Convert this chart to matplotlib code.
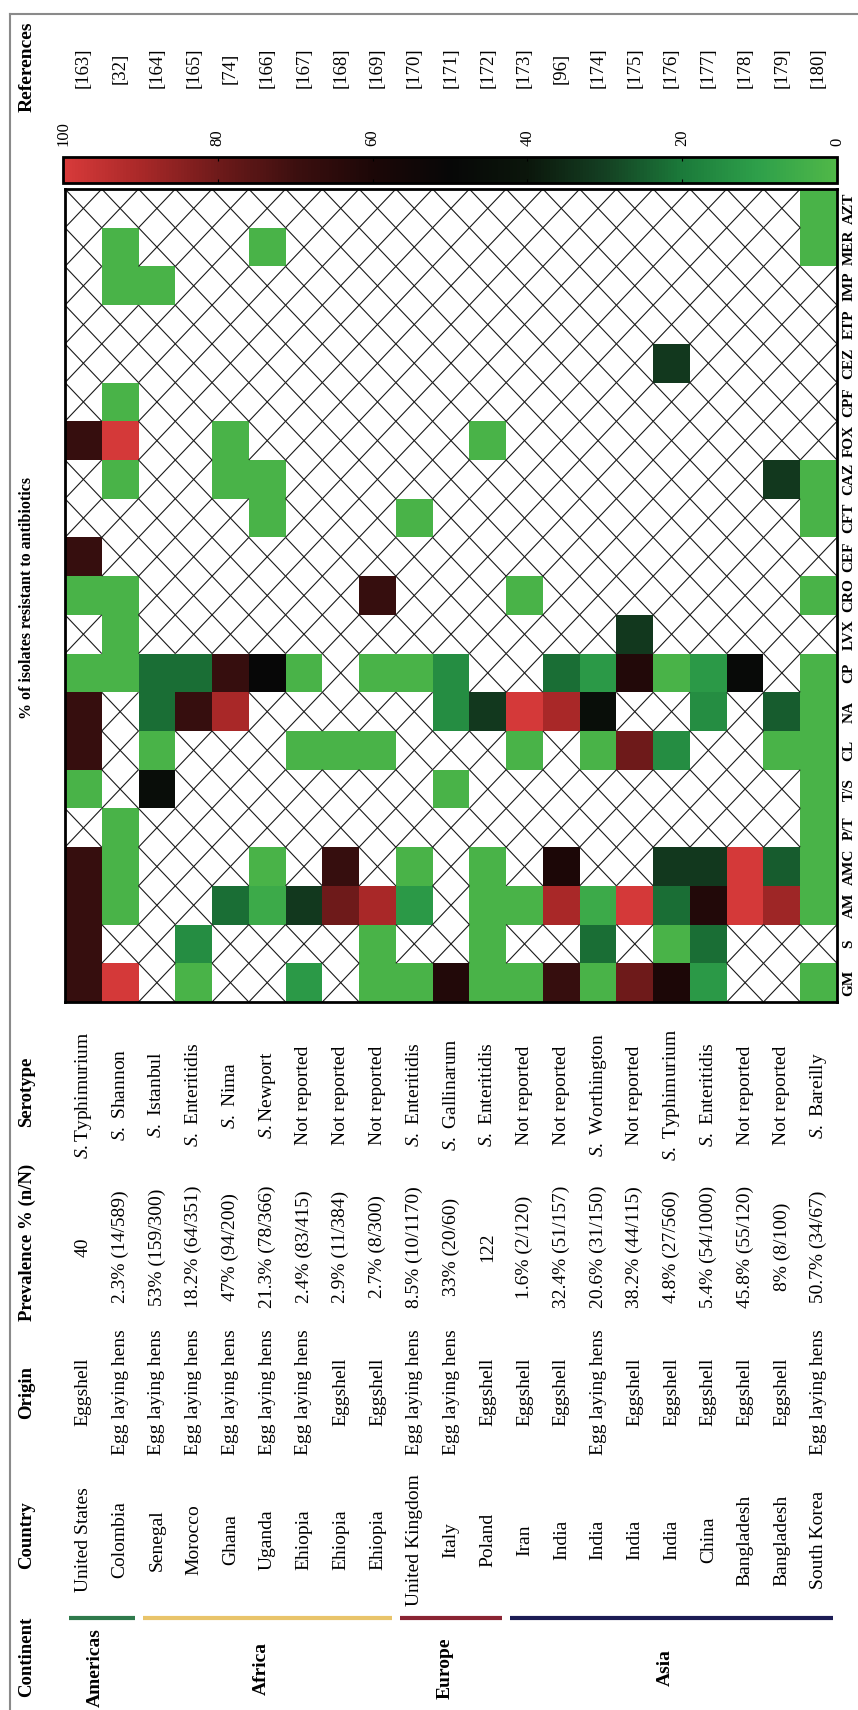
import numpy as np
import matplotlib
matplotlib.use('Agg')
import matplotlib.pyplot as plt
from matplotlib.colors import LinearSegmentedColormap, Normalize
from matplotlib.collections import LineCollection
import matplotlib.cm as cm

plt.rcParams['font.family'] = ['Liberation Serif', 'DejaVu Serif']
plt.rcParams['mathtext.fontset'] = 'custom'
plt.rcParams['mathtext.rm'] = 'Liberation Serif'
plt.rcParams['mathtext.it'] = 'Liberation Serif:italic'

N = np.nan

antibiotics = ['GM', 'S', 'AM', 'AMC', 'P/T', 'T/S', 'CL', 'NA', 'CP', 'LVX', 'CRO',
               'CEF', 'CFT', 'CAZ', 'FOX', 'CPF', 'CEZ', 'ETP', 'IMP', 'MER', 'AZT']

countries = ['United States', 'Colombia', 'Senegal', 'Morocco', 'Ghana', 'Uganda',
             'Ehiopia', 'Ehiopia', 'Ehiopia', 'United Kingdom', 'Italy', 'Poland',
             'Iran', 'India', 'India', 'India', 'India', 'China', 'Bangladesh',
             'Bangladesh', 'South Korea']
origins = ['Eggshell', 'Egg laying hens', 'Egg laying hens', 'Egg laying hens',
           'Egg laying hens', 'Egg laying hens', 'Egg laying hens', 'Eggshell',
           'Eggshell', 'Egg laying hens', 'Egg laying hens', 'Eggshell', 'Eggshell',
           'Eggshell', 'Egg laying hens', 'Eggshell', 'Eggshell', 'Eggshell',
           'Eggshell', 'Eggshell', 'Egg laying hens']
prevalence = ['40', '2.3% (14/589)', '53% (159/300)', '18.2% (64/351)', '47% (94/200)',
              '21.3% (78/366)', '2.4% (83/415)', '2.9% (11/384)', '2.7% (8/300)',
              '8.5% (10/1170)', '33% (20/60)', '122', '1.6% (2/120)', '32.4% (51/157)',
              '20.6% (31/150)', '38.2% (44/115)', '4.8% (27/560)', '5.4% (54/1000)',
              '45.8% (55/120)', '8% (8/100)', '50.7% (34/67)']
serotypes = ['S.Typhimurium', 'S. Shannon', 'S. Istanbul', 'S. Enteritidis', 'S. Nima',
             'S.Newport', 'Not reported', 'Not reported', 'Not reported', 'S. Enteritidis',
             'S. Gallinarum', 'S. Enteritidis', 'Not reported', 'Not reported',
             'S. Worthington', 'Not reported', 'S. Typhimurium', 'S. Enteritidis',
             'Not reported', 'Not reported', 'S. Bareilly']
references = ['[163]', '[32]', '[164]', '[165]', '[74]', '[166]', '[167]', '[168]', '[169]',
              '[170]', '[171]', '[172]', '[173]', '[96]', '[174]', '[175]', '[176]', '[177]',
              '[178]', '[179]', '[180]']

continents = ['Americas', 'Africa', 'Europe', 'Asia']
continent_sizes = [2, 7, 3, 9]
continent_colors = ['#2f7a4c', '#e9c46a', '#8a2433', '#1c1c55']

# % resistant, one list per country, antibiotics ordered GM ... AZT (nan = not tested)
resistance_by_country = [
    [68, 68, 68, 68, N, 2, 68, 68, 2, N, 2, 68, N, N, 68, N, N, N, N, N, N],   # United States
    [99, N, 2, 2, 2, N, N, N, 2, 2, 2, N, N, 2, 99, 2, N, N, 2, 2, N],        # Colombia
    [N, N, N, N, N, 46, 2, 22, 22, N, N, N, N, N, N, N, N, N, 2, N, N],       # Senegal
    [2, 15, N, N, N, N, N, 68, 22, N, N, N, N, N, N, N, N, N, N, N, N],       # Morocco
    [N, N, 22, N, N, N, N, 90, 68, N, N, N, N, 2, 2, N, N, N, N, N, N],       # Ghana
    [N, N, 6, 2, N, N, N, N, 50, N, N, N, 2, 2, N, N, N, N, N, 2, N],         # Uganda
    [12, N, 32, N, N, N, 2, N, 2, N, N, N, N, N, N, N, N, N, N, N, N],        # Ehiopia
    [N, N, 80, 68, N, N, 2, N, N, N, N, N, N, N, N, N, N, N, N, N, N],        # Ehiopia
    [2, 2, 90, N, N, N, 2, N, 2, N, 68, N, N, N, N, N, N, N, N, N, N],        # Ehiopia
    [2, N, 12, 2, N, N, N, N, 2, N, N, N, 2, N, N, N, N, N, N, N, N],         # United Kingdom
    [62, N, N, N, N, 2, N, 15, 15, N, N, N, N, N, N, N, N, N, N, N, N],       # Italy
    [2, 2, 2, 2, N, N, N, 32, N, N, N, N, N, N, 2, N, N, N, N, N, N],         # Poland
    [2, N, 2, N, N, N, 2, 99, N, N, 2, N, N, N, N, N, N, N, N, N, N],         # Iran
    [68, N, 90, 60, N, N, N, 90, 22, N, N, N, N, N, N, N, N, N, N, N, N],     # India
    [2, 22, 6, N, N, N, 2, 45, 12, N, N, N, N, N, N, N, N, N, N, N, N],       # India
    [80, N, 99, N, N, N, 80, N, 62, 32, N, N, N, N, N, N, N, N, N, N, N],     # India
    [60, 2, 22, 32, N, N, 15, N, 2, N, N, N, N, N, N, N, 32, N, N, N, N],     # India
    [12, 22, 62, 32, N, N, N, 15, 12, N, N, N, N, N, N, N, N, N, N, N, N],    # China
    [N, N, 99, 99, N, N, N, N, 48, N, N, N, N, N, N, N, N, N, N, N, N],       # Bangladesh
    [N, N, 88, 25, N, N, 2, 25, N, N, N, N, N, 32, N, N, N, N, N, N, N],      # Bangladesh
    [2, N, 2, 2, 2, 2, 2, 2, 2, N, 2, N, 2, 2, N, N, N, N, N, 2, 2],          # South Korea
]

cmap = LinearSegmentedColormap.from_list('resist', [
    (0.0, '#50b848'), (0.1, '#2ea04a'), (0.2, '#1b7a3a'), (0.3, '#143f22'),
    (0.4, '#0b160b'), (0.5, '#070707'), (0.6, '#1c0707'), (0.7, '#3c0f0f'),
    (0.8, '#6e1a1a'), (0.9, '#a82828'), (1.0, '#d83a3a')])
norm = Normalize(0, 100)

resistance = np.array(resistance_by_country, dtype=float).T   # antibiotics x countries
n_ab, n_c = resistance.shape

W, H = 858, 1710
fig = plt.figure(figsize=(W / 100, H / 100), dpi=100)


def frac(x0, y0, x1, y1):
    return [x0 / W, 1 - y1 / H, (x1 - x0) / W, (y1 - y0) / H]


bg = fig.add_axes([0, 0, 1, 1])
bg.set_xlim(0, W)
bg.set_ylim(H, 0)
bg.axis('off')

HX0, HX1, HY0, HY1 = 65, 837, 189, 1002
CW = (HX1 - HX0) / n_c

# heatmap
ax = fig.add_axes(frac(HX0, HY0, HX1, HY1))
ax.pcolormesh(np.arange(n_c + 1), np.arange(n_ab + 1), np.ma.masked_invalid(resistance),
              cmap=cmap, norm=norm)
segs = []
for j in range(n_ab):
    for i in range(n_c):
        if np.isnan(resistance[j, i]):
            segs.append([(i, j), (i + 1, j + 1)])
            segs.append([(i, j + 1), (i + 1, j)])
ax.add_collection(LineCollection(segs, colors='#1a1a1a', linewidths=0.8))
ax.set_xlim(0, n_c)
ax.set_ylim(0, n_ab)
ax.set_xticks([])
ax.yaxis.tick_right()
ax.set_yticks(np.arange(n_ab) + 0.5)
ax.set_yticklabels(antibiotics, rotation=90, fontweight='bold', fontsize=11, va='center')
ax.tick_params(axis='y', length=0, pad=4)
for s in ax.spines.values():
    s.set_linewidth(2)

# colour bar
cax = fig.add_axes(frac(HX0 - 2, 157, HX1, 183))
cb = fig.colorbar(cm.ScalarMappable(norm=norm, cmap=cmap), cax=cax, orientation='horizontal')
cax.invert_xaxis()
cb.set_ticks([0, 20, 40, 60, 80, 100])
cax.tick_params(axis='x', which='both', direction='in', length=3, top=True, bottom=True,
                labeltop=True, labelbottom=False, labelsize=12, labelrotation=90, pad=8)
cb.outline.set_linewidth(2)

# headers
hdr = dict(rotation=90, fontweight='bold', ha='center', va='center')
bg.text(27, 67, 'References', fontsize=14, **hdr)
bg.text(27, 598, '% of isolates resistant to antibiotics', fontsize=11.5, **hdr)
bg.text(27, 1092, 'Serotype', fontsize=13.5, **hdr)
bg.text(27, 1242, 'Prevalence % (n/N)', fontsize=13.5, **hdr)
bg.text(27, 1392, 'Origin', fontsize=13.5, **hdr)
bg.text(27, 1535, 'Country', fontsize=13.5, **hdr)
bg.text(27, 1657, 'Continent', fontsize=13.5, **hdr)

# table cells
cell = dict(rotation=90, ha='center', va='center', fontsize=14)
for i in range(n_c):
    x = HX0 + CW * (i + 0.5)
    bg.text(x, 68, references[i], fontsize=13.5, rotation=90, ha='center', va='center')
    s = serotypes[i]
    if s.startswith('S.'):
        s = r'$\mathit{S.}$' + s[2:]
    bg.text(x, 1095, s, **cell)
    bg.text(x, 1247, prevalence[i], **cell)
    bg.text(x, 1392, origins[i], **cell)
    bg.text(x, 1540, countries[i], **cell)

# continents
start = 0
for name, size, col in zip(continents, continent_sizes, continent_colors):
    x0 = HX0 + CW * start + 4
    x1 = HX0 + CW * (start + size) - 4
    bg.plot([x0, x1], [1618, 1618], color=col, lw=3, solid_capstyle='butt')
    bg.text((x0 + x1) / 2 - 6, 1668, name, rotation=90, fontweight='bold', fontsize=14,
            ha='center', va='center')
    start += size

# outer frame
bg.plot([10, W], [14, 14], color='#8a8a8a', lw=1.5)
bg.plot([10, 10], [14, H], color='#8a8a8a', lw=1.5)

fig.savefig('out.png', dpi=100)
